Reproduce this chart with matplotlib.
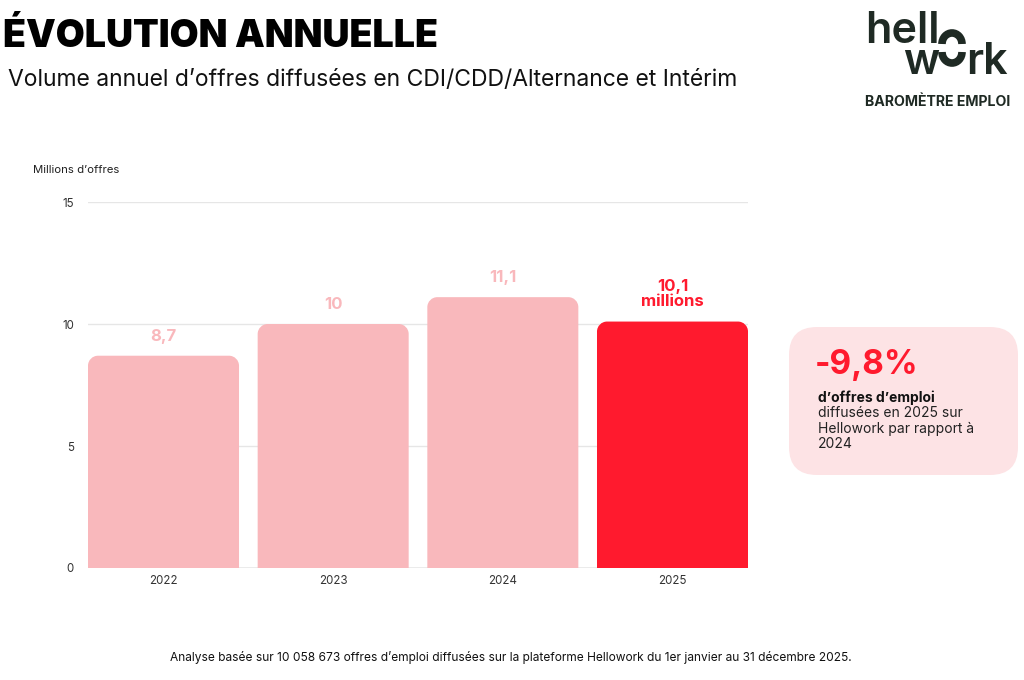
import matplotlib.pyplot as plt
from matplotlib.patches import FancyBboxPatch, Arc, PathPatch
from matplotlib.path import Path

# Data
years = ['2022', '2023', '2024', '2025']
volumes = [8.7, 10.0, 11.1, 10.1]
labels = ['8,7', '10', '11,1', '10,1\nmillions']
yticks = [0, 5, 10, 15]

pink = '#f9b8bc'
red = '#ff1a2e'
colors = [pink, pink, pink, red]

plt.rcParams['font.family'] = ['Inter', 'DejaVu Sans']

fig = plt.figure(figsize=(10.24, 6.8), dpi=100)
ax = fig.add_axes([88 / 1024, 1 - 568 / 680, 660 / 1024, 366 / 680])

x = list(range(len(years)))
bars = ax.bar(x, volumes, width=0.89, color=colors)
ax.set_xlim(-0.445, 3.445)
ax.set_ylim(0, 15)


def top_rounded(x0, w, h, rx, ry):
    # path of a bar with rounded top corners only
    k = 0.5523
    verts = [(x0, 0), (x0, h - ry),
             (x0, h - ry + k * ry), (x0 + rx - k * rx, h), (x0 + rx, h),
             (x0 + w - rx, h),
             (x0 + w - rx + k * rx, h), (x0 + w, h - ry + k * ry), (x0 + w, h - ry),
             (x0 + w, 0), (x0, 0)]
    codes = [Path.MOVETO, Path.LINETO,
             Path.CURVE4, Path.CURVE4, Path.CURVE4,
             Path.LINETO,
             Path.CURVE4, Path.CURVE4, Path.CURVE4,
             Path.LINETO, Path.CLOSEPOLY]
    return Path(verts, codes)


# corner radius ~10 px
rx = 10 * 3.89 / 660
ry = 10 * 15 / 366
for b, c in zip(bars, colors):
    b.set_visible(False)
    ax.add_patch(PathPatch(top_rounded(b.get_x(), b.get_width(), b.get_height(), rx, ry),
                           fc=c, ec='none', zorder=3))

for xi, v, lab, c in zip(x, volumes, labels, colors):
    ax.text(xi, v + 0.5, lab, ha='center', va='bottom', color=c,
            fontsize=12, fontweight='bold', linespacing=1.0)

ax.set_yticks(yticks)
ax.set_yticklabels([str(t) for t in yticks])
ax.set_xticks(x)
ax.set_xticklabels(years)
ax.tick_params(length=0, labelsize=8.3, colors='#333333')
ax.tick_params(axis='y', pad=10)
ax.tick_params(axis='x', pad=5)
for t in yticks[1:]:
    ax.axhline(t, color='#e6e6e6', lw=1, zorder=1)
ax.axhline(0, color='#9e9e9e', lw=1, zorder=2)
for s in ax.spines.values():
    s.set_visible(False)

# overlay in pixel coordinates
ov = fig.add_axes([0, 0, 1, 1], zorder=5)
ov.set_xlim(0, 1024)
ov.set_ylim(680, 0)
ov.axis('off')
ov.patch.set_alpha(0)

ov.text(3, 37, 'ÉVOLUTION ANNUELLE', fontsize=27, fontweight='black',
        va='center', ha='left', color='black')
ov.text(8, 80, 'Volume annuel d’offres diffusées en CDI/CDD/Alternance et Intérim',
        fontsize=16.5, va='center', ha='left', color='#111111')
ov.text(33, 170, 'Millions d’offres', fontsize=8.2, va='center', ha='left', color='#222222')

# logo
logo = '#1f2a24'
ov.text(865, 43, 'hell', fontsize=31, fontweight='semibold', color=logo,
        va='baseline', ha='left')
ov.text(903, 74, 'w', fontsize=31, fontweight='semibold', color=logo,
        va='baseline', ha='left')
ov.text(966, 74, 'rk', fontsize=31, fontweight='semibold', color=logo,
        va='baseline', ha='left')
ov.add_patch(Arc((952, 44), 20, 22, theta1=180, theta2=360, lw=5.5, color=logo))
ov.add_patch(Arc((952, 52), 20, 22, theta1=0, theta2=180, lw=5.5, color=logo))
ov.text(938, 102, 'BAROMÈTRE EMPLOI', fontsize=10.2, fontweight='bold', color=logo,
        va='center', ha='center')

# callout box
ov.add_patch(FancyBboxPatch((789, 327), 229, 148,
                            boxstyle='round,pad=0,rounding_size=28',
                            fc='#fde3e5', ec='none'))
ov.text(815, 365, '-9,8%', fontsize=24, fontweight='bold', color=red,
        va='center', ha='left')
ov.text(818, 398, 'd’offres d’emploi', fontsize=10, fontweight='bold', color='#111111',
        va='center', ha='left')
ov.text(818, 398 + 8, 'diffusées en 2025 sur\nHellowork par rapport à\n2024', fontsize=10,
        color='#222222', va='top', ha='left', linespacing=1.15)

ov.text(511, 657, 'Analyse basée sur 10 058 673 offres d’emploi diffusées sur la plateforme '
        'Hellowork du 1er janvier au 31 décembre 2025.', fontsize=8.6, color='#111111',
        va='center', ha='center')

fig.savefig('out.png', dpi=100, facecolor='white')
